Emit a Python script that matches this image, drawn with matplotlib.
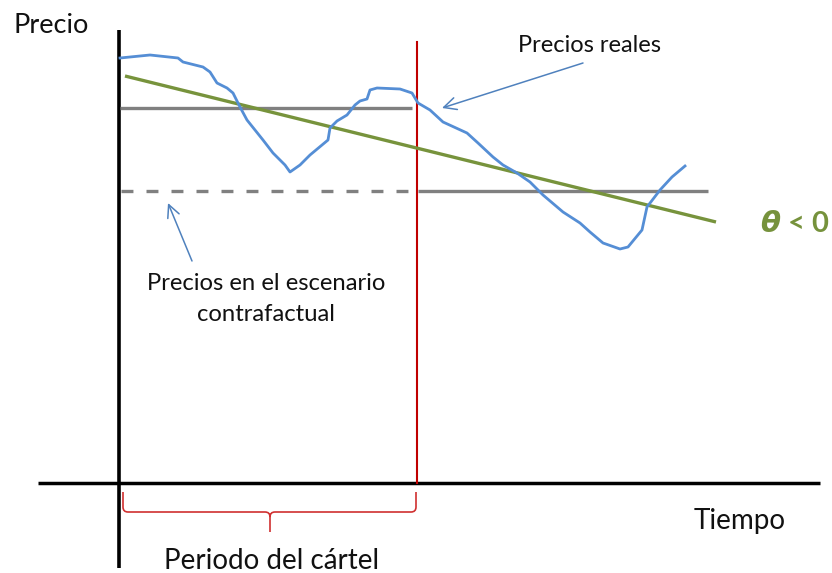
import matplotlib
matplotlib.use("Agg")
import matplotlib.pyplot as plt
from matplotlib.path import Path
from matplotlib.patches import PathPatch, FancyArrowPatch

plt.rcParams['font.family'] = ['Lato', 'DejaVu Sans']
plt.rcParams['lines.scale_dashes'] = False

# ---- data (drawing units: time to the right, price measured downward from top) ----
actual_t = [120, 150, 178, 183, 203, 210, 217, 227, 233, 240, 247, 255, 263, 273, 285, 290,
            300, 310, 322, 328, 330, 337, 347, 355, 360, 367, 370, 377, 400, 412, 418, 430,
            443, 467, 478, 493, 503, 517, 530, 543, 563, 580, 590, 603, 620, 628, 642, 647,
            660, 672, 685]
actual_p = [58, 55, 58, 62, 67, 72, 83, 88, 93, 107, 120, 130, 140, 153, 165, 172,
            165, 155, 145, 140, 128, 121, 115, 105, 101, 99, 90, 88, 89, 93, 103, 110,
            122, 133, 143, 157, 165, 173, 182, 195, 212, 223, 232, 243, 249, 247, 230, 207,
            190, 177, 166]
trend_t = [125, 716]
trend_p = [76, 222]
cartel_level_t = [120, 412]
cartel_level_p = 108
counter_level_t_dashed = [121, 414]
counter_level_t_solid = [418, 708]
counter_level_p = 191
cartel_end_t = 417
axis_origin_t = 119
axis_origin_p = 483

fig = plt.figure(figsize=(8.32, 5.73), dpi=100)
ax = fig.add_axes([0, 0, 1, 1])
ax.set_xlim(0, 832)
ax.set_ylim(573, 0)
ax.axis('off')

# axes
ax.plot([axis_origin_t, axis_origin_t], [30, 568], color='black', lw=2.6, solid_capstyle='butt')
ax.plot([38, 820], [axis_origin_p, axis_origin_p], color='black', lw=2.5, solid_capstyle='butt')

# red end of cartel
ax.plot([cartel_end_t, cartel_end_t], [42, axis_origin_p], color='#C00000', lw=1.5)

# gray levels
ax.plot(cartel_level_t, [cartel_level_p] * 2, color='#808080', lw=2.4, solid_capstyle='butt')
ax.plot(counter_level_t_dashed, [counter_level_p] * 2, color='#808080', lw=2.4,
        dashes=(8.6, 9.4), dash_capstyle='butt')
ax.plot(counter_level_t_solid, [counter_level_p] * 2, color='#808080', lw=2.4, solid_capstyle='butt')

# trend and actual prices
ax.plot(trend_t, trend_p, color='#77933C', lw=2.4, solid_capstyle='butt')
ax.plot(actual_t, actual_p, color='#558ED5', lw=2.0, solid_joinstyle='round')

# arrows
arrow_style = '->,head_length=0.45,head_width=0.22'
ax.add_patch(FancyArrowPatch((583, 63), (442, 108), arrowstyle=arrow_style,
                             color='#4F81BD', lw=1.1, mutation_scale=20, shrinkA=0, shrinkB=0))
ax.add_patch(FancyArrowPatch((192, 261), (168, 203), arrowstyle=arrow_style,
                             color='#4F81BD', lw=1.1, mutation_scale=20, shrinkA=0, shrinkB=0))

# brace
l, r, top, mid_y, tip, cx, rad = 123, 416, 492, 512, 532, 270, 5
verts = [(l, top), (l, mid_y - rad), (l, mid_y), (l + rad, mid_y),
         (cx - rad, mid_y), (cx, mid_y), (cx, mid_y + rad), (cx, tip),
         (cx, mid_y + rad), (cx, mid_y), (cx + rad, mid_y),
         (r - rad, mid_y), (r, mid_y), (r, mid_y - rad), (r, top)]
codes = [Path.MOVETO, Path.LINETO, Path.CURVE3, Path.CURVE3,
         Path.LINETO, Path.CURVE3, Path.CURVE3, Path.LINETO,
         Path.MOVETO, Path.CURVE3, Path.CURVE3,
         Path.LINETO, Path.CURVE3, Path.CURVE3, Path.LINETO]
ax.add_patch(PathPatch(Path(verts, codes), fill=False, edgecolor='#D03030', lw=1.2))

# texts
ax.text(14, 33, 'Precio', fontsize=19.5, ha='left', va='baseline', color='#111111')
ax.text(590, 52, 'Precios reales', fontsize=17, ha='center', va='baseline', color='#111111')
ax.text(266, 290, 'Precios en el escenario', fontsize=17.2, ha='center', va='baseline', color='#111111')
ax.text(266, 321, 'contrafactual', fontsize=17.2, ha='center', va='baseline', color='#111111')
ax.text(740, 529, 'Tiempo', fontsize=20, ha='center', va='baseline', color='#111111')
ax.text(272, 569, 'Periodo del cártel', fontsize=20, ha='center', va='baseline', color='#111111')
ax.text(795, 224, r'$\boldsymbol{\theta}$ < 0', fontsize=21, ha='center', va='center',
        color='#76923C', fontweight='bold')

fig.savefig('out.png', dpi=100)
